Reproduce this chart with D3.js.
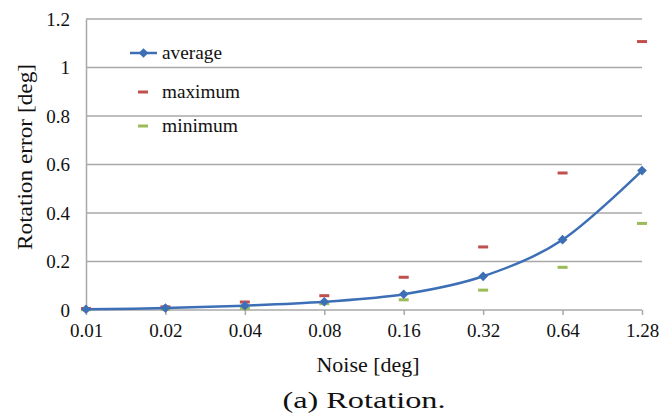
<!DOCTYPE html>
<html lang="en">
  <head>
    <meta charset="UTF-8" />
    <title>Rotation error vs noise</title>
    <script src="https://cdn.jsdelivr.net/npm/d3@7"></script>
    <style>
      body { margin: 0; background: #fff; }
      text { font-family: "Liberation Serif", "Times New Roman", "DejaVu Serif", serif; fill: #111; }
    </style>
  </head>
  <body>
    <svg id="chart" width="659" height="414"></svg>
    <script>
      // data
      var noise = ["0.01", "0.02", "0.04", "0.08", "0.16", "0.32", "0.64", "1.28"];
      var average = [0.003, 0.008, 0.018, 0.034, 0.065, 0.139, 0.29, 0.575];
      var maximum = [0.006, 0.013, 0.033, 0.059, 0.135, 0.26, 0.565, 1.107];
      var minimum = [0.001, 0.003, 0.006, 0.026, 0.042, 0.082, 0.176, 0.357];
      var yTicks = [0, 0.2, 0.4, 0.6, 0.8, 1, 1.2];

      var serif = "'Liberation Serif', 'Times New Roman', 'DejaVu Serif', serif";
      var svg = d3.select("#chart");
      var plotLeft = 86, plotRight = 642, plotTop = 19, plotBottom = 310;

      var xScale = d3.scalePoint()
        .domain(noise)
        .range([plotLeft, plotRight]);

      var yScale = d3.scaleLinear()
        .domain([0, 1.2])
        .range([plotBottom, plotTop]);

      // gridlines
      svg.append("g")
        .selectAll("line")
        .data(yTicks.filter(function(d) { return d > 0; }))
        .enter()
        .append("line")
        .attr("x1", plotLeft)
        .attr("x2", plotRight)
        .attr("y1", function(d) { return yScale(d); })
        .attr("y2", function(d) { return yScale(d); })
        .attr("stroke", "#a8a8a8")
        .attr("stroke-width", 1.5);

      // y axis
      var yAxis = d3.axisLeft(yScale)
        .tickValues(yTicks)
        .tickSize(0)
        .tickPadding(16)
        .tickFormat(function(d) { return d3.format("")(d); });

      svg.append("g")
        .attr("class", "y-axis")
        .attr("transform", "translate(" + plotLeft + ",0)")
        .call(yAxis)
        .call(function(g) {
          g.attr("font-family", serif).attr("font-size", 19);
          g.select(".domain").attr("stroke", "#a8a8a8").attr("stroke-width", 1.5);
          g.selectAll("text").attr("fill", "#111");
        });

      // x axis
      var xAxis = d3.axisBottom(xScale)
        .tickSize(5)
        .tickPadding(9);

      svg.append("g")
        .attr("class", "x-axis")
        .attr("transform", "translate(0," + plotBottom + ")")
        .call(xAxis)
        .call(function(g) {
          g.attr("font-family", serif).attr("font-size", 19);
          g.select(".domain").attr("stroke", "#a8a8a8").attr("stroke-width", 1.5)
            .attr("d", "M" + plotLeft + ",0H" + plotRight);
          g.selectAll(".tick line").attr("stroke", "#a8a8a8").attr("stroke-width", 1.5);
          g.selectAll("text").attr("fill", "#111");
        });

      // max / min dashes
      function dashes(values, color) {
        svg.append("g")
          .selectAll("rect")
          .data(values)
          .enter()
          .append("rect")
          .attr("x", function(d, i) { return xScale(noise[i]) - 5; })
          .attr("y", function(d) { return yScale(d) - 1.5; })
          .attr("width", 10)
          .attr("height", 3)
          .attr("fill", color);
      }
      dashes(minimum, "#9bbb59");
      dashes(maximum, "#c0504d");

      // average line
      var line = d3.line()
        .x(function(d, i) { return xScale(noise[i]); })
        .y(function(d) { return yScale(d); })
        .curve(d3.curveCatmullRom.alpha(0));

      svg.append("path")
        .datum(average)
        .attr("d", line)
        .attr("fill", "none")
        .attr("stroke", "#3d6fb6")
        .attr("stroke-width", 2.5);

      var diamond = d3.symbol().type(d3.symbolDiamond2).size(60);
      svg.append("g")
        .selectAll("path")
        .data(average)
        .enter()
        .append("path")
        .attr("d", diamond)
        .attr("transform", function(d, i) {
          return "translate(" + xScale(noise[i]) + "," + yScale(d) + ")";
        })
        .attr("fill", "#3d6fb6");

      // legend
      var legend = svg.append("g").attr("transform", "translate(130,0)");
      legend.append("line")
        .attr("x1", 0).attr("x2", 27).attr("y1", 53).attr("y2", 53)
        .attr("stroke", "#3d6fb6").attr("stroke-width", 2.5);
      legend.append("path")
        .attr("d", diamond)
        .attr("transform", "translate(13.5,53)")
        .attr("fill", "#3d6fb6");
      legend.append("rect")
        .attr("x", 8).attr("y", 90.5).attr("width", 10).attr("height", 3)
        .attr("fill", "#c0504d");
      legend.append("rect")
        .attr("x", 8).attr("y", 124.5).attr("width", 10).attr("height", 3)
        .attr("fill", "#9bbb59");
      var labels = ["average", "maximum", "minimum"];
      var labelWidths = [60, 78, 76];
      legend.selectAll("text.lab")
        .data(labels)
        .enter()
        .append("text")
        .attr("class", "lab")
        .attr("x", 32)
        .attr("y", function(d, i) { return [59, 98, 132][i]; })
        .attr("font-family", serif)
        .attr("font-size", 19)
        .attr("textLength", function(d, i) { return labelWidths[i]; })
        .attr("lengthAdjust", "spacingAndGlyphs")
        .text(function(d) { return d; });

      // axis titles
      svg.append("text")
        .attr("x", 368)
        .attr("y", 372)
        .attr("text-anchor", "middle")
        .attr("font-family", serif)
        .attr("font-size", 21)
        .attr("textLength", 103)
        .attr("lengthAdjust", "spacingAndGlyphs")
        .text("Noise [deg]");

      svg.append("text")
        .attr("transform", "translate(32,157) rotate(-90)")
        .attr("text-anchor", "middle")
        .attr("font-family", serif)
        .attr("font-size", 21)
        .attr("textLength", 186)
        .attr("lengthAdjust", "spacingAndGlyphs")
        .text("Rotation error [deg]");

      // caption
      svg.append("text")
        .attr("x", 364)
        .attr("y", 408)
        .attr("text-anchor", "middle")
        .attr("font-family", "'DejaVu Serif', serif")
        .attr("font-size", 24)
        .attr("textLength", 163)
        .attr("lengthAdjust", "spacingAndGlyphs")
        .text("(a) Rotation.");
    </script>
  </body>
</html>
